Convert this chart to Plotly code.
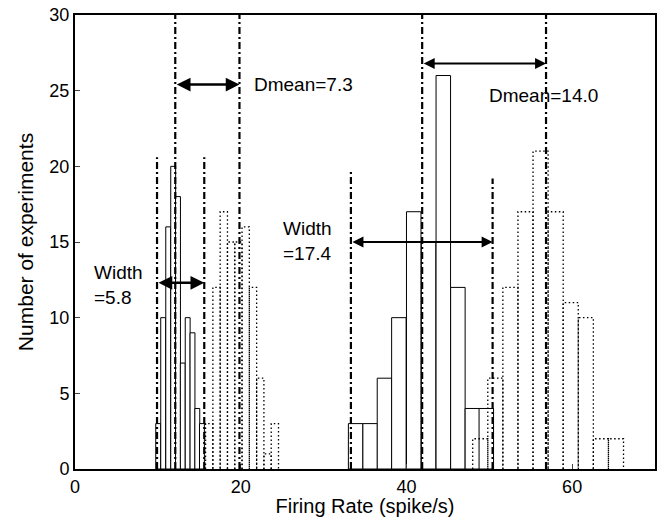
import plotly.graph_objects as go

# ---- data ----
small_solid_x = [10.04, 10.64, 11.25, 11.85, 12.43, 13.01, 13.60, 14.18, 14.76, 15.32]
small_solid_counts = [3, 10, 16, 20, 18, 7, 10, 9, 4, 3]
small_solid_width = 0.59

small_dotted_x = [16.20, 17.08, 17.96, 18.84, 19.72, 20.60, 21.48, 22.36, 23.24, 24.12]
small_dotted_counts = [3, 12, 17, 15, 15, 16, 12, 6, 1, 3]
small_dotted_width = 0.88

big_solid_x = [33.87, 35.62, 37.35, 39.09, 40.88, 42.68, 44.45, 46.21, 47.96, 49.64]
big_solid_counts = [3, 3, 6, 10, 17, 15, 26, 12, 4, 4]
big_solid_width = 1.75

big_dotted_x = [48.91, 50.73, 52.55, 54.37, 56.19, 58.01, 59.83, 61.65, 63.47, 65.29]
big_dotted_counts = [2, 6, 12, 17, 21, 17, 11, 10, 2, 2]
big_dotted_width = 1.82

# vertical marker lines: (x, top)
marker_lines_x = [9.9, 12.1, 15.6, 19.85, 33.3, 41.9, 50.4, 56.85]
marker_lines_top = [20.6, 30, 20.6, 30, 19.7, 30, 19.2, 30]

# arrows: (x_start, x_end, y, width)
arrow_x0 = [12.1, 9.9, 33.3, 41.9]
arrow_x1 = [19.85, 15.6, 50.4, 56.85]
arrow_y = [25.4, 12.3, 15.0, 26.8]
arrow_w = [2.5, 2.5, 2.0, 2.0]

label_texts = ["Dmean=7.3", "Width<br>=5.8", "Width<br>=17.4", "Dmean=14.0"]
label_x = [21.4, 2.0, 24.9, 49.7]
label_y = [25.4, 12.15, 15.05, 24.7]

x_ticks = [0, 20, 40, 60]
y_ticks = [0, 5, 10, 15, 20, 25, 30]

FONT = "Arial, 'Liberation Sans', sans-serif"

fig = go.Figure()

def dotted_outline(centers, counts, w):
    xs, ys = [], []
    for c, h in zip(centers, counts):
        x0, x1 = c - w / 2, c + w / 2
        xs += [x0, x0, x1, x1, None]
        ys += [0, h, h, 0, None]
    return xs, ys

for cx, cnt, w in [(small_solid_x, small_solid_counts, small_solid_width),
                   (big_solid_x, big_solid_counts, big_solid_width)]:
    fig.add_trace(go.Bar(x=cx, y=cnt, width=w,
                         marker=dict(color="white", line=dict(color="black", width=1)),
                         showlegend=False, hoverinfo="skip"))

for cx, cnt, w in [(small_dotted_x, small_dotted_counts, small_dotted_width),
                   (big_dotted_x, big_dotted_counts, big_dotted_width)]:
    xs, ys = dotted_outline(cx, cnt, w)
    fig.add_trace(go.Scatter(x=xs, y=ys, mode="lines",
                             line=dict(color="black", width=1.3, dash="1.5px,2.5px"),
                             showlegend=False, hoverinfo="skip"))

for x, top in zip(marker_lines_x, marker_lines_top):
    fig.add_shape(type="line", x0=x, x1=x, y0=0, y1=top, xref="x", yref="y",
                  line=dict(color="black", width=2.2, dash="7px,3px,2px,3px"))

for x0, x1, y, w in zip(arrow_x0, arrow_x1, arrow_y, arrow_w):
    fig.add_annotation(x=x1, y=y, ax=x0, ay=y, xref="x", yref="y", axref="x", ayref="y",
                       text="", showarrow=True, arrowhead=2, startarrowhead=2,
                       arrowside="end+start", arrowsize=1.1, startarrowsize=1.1,
                       arrowwidth=w, arrowcolor="black", standoff=0, startstandoff=0)

for t, x, y in zip(label_texts, label_x, label_y):
    fig.add_annotation(x=x, y=y, xref="x", yref="y", text=t, showarrow=False,
                       xanchor="left", yanchor="middle", align="left",
                       font=dict(family=FONT, size=19, color="black"))

fig.update_layout(
    width=662, height=517,
    margin=dict(l=75, r=5, t=12, b=48),
    paper_bgcolor="white", plot_bgcolor="white",
    barmode="overlay",
    font=dict(family=FONT, size=18, color="black"),
    xaxis=dict(range=[0, 70], tickvals=x_ticks, ticks="inside", ticklen=5,
               showgrid=False, zeroline=False, showline=True, linecolor="black",
               linewidth=2, mirror=True, tickfont=dict(size=18),
               title=dict(text="Firing Rate (spike/s)", font=dict(size=20), standoff=0)),
    yaxis=dict(range=[0, 30], tickvals=y_ticks, ticks="inside", ticklen=5,
               showgrid=False, zeroline=False, showline=True, linecolor="black",
               linewidth=2, mirror=True, tickfont=dict(size=18),
               title=dict(text="Number of experiments", font=dict(size=21), standoff=10)),
)

fig.write_html("out.html")
